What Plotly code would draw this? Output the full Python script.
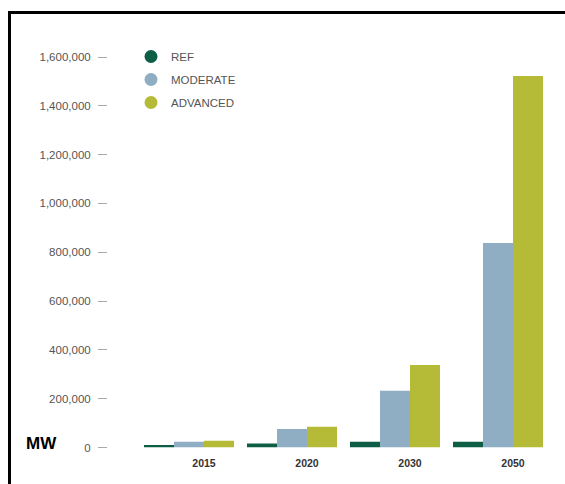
import plotly.graph_objects as go

years = ["2015", "2020", "2030", "2050"]
series_names = ["REF", "MODERATE", "ADVANCED"]
ref = [10000, 16000, 24000, 24000]
moderate = [24000, 76000, 233000, 838000]
advanced = [28000, 85000, 338000, 1522000]
colors = ["#0e5e46", "#8fadc3", "#b5bb36"]
y_ticks = [0, 200000, 400000, 600000, 800000, 1000000, 1200000, 1400000, 1600000]

W, H = 565, 484
xs = list(range(len(years)))
bargap = 0.126
bar_w = (1 - bargap) / 3

fig = go.Figure()
for name, vals, col in zip(series_names, [ref, moderate, advanced], colors):
    fig.add_trace(go.Bar(x=xs, y=vals, name=name, marker=dict(color=col, line=dict(width=0)),
                         showlegend=False))
for name, col in zip(series_names, colors):
    fig.add_trace(go.Scatter(x=[None], y=[None], mode="markers", name=name, legendgroup=name,
                             marker=dict(symbol="circle", size=13, color=col)))

plot_left = 108
x_unit = 103.0
center0 = 189
range_lo = -(center0 - plot_left) / x_unit
range_hi = 3 + (W - 498) / x_unit

y0_px = 447.5
px_per = (447.5 - 57) / 1600000
ymax = 1700000
top_px = y0_px - ymax * px_per

fig.update_layout(
    width=W, height=H,
    margin=dict(l=0, r=0, t=0, b=0, autoexpand=False),
    paper_bgcolor="white", plot_bgcolor="white",
    barmode="group", bargap=bargap, bargroupgap=0,
    font=dict(family="Liberation Sans, Arial, sans-serif", color="#555555", size=10),
    xaxis=dict(domain=[plot_left / W, 1], range=[range_lo, range_hi], automargin=False,
               tickmode="array", tickvals=[x + bar_w / 2 for x in xs], ticktext=["<b>%s</b>" % y for y in years],
               ticks="", showline=False, showgrid=False, zeroline=False,
               tickfont=dict(size=10.5, color="#333333", family="Liberation Sans, Arial, sans-serif"),
               ticklabelstandoff=8, fixedrange=True),
    yaxis=dict(domain=[(H - y0_px) / H, (H - top_px) / H], range=[0, ymax], automargin=False,
               tickmode="array", tickvals=y_ticks,
               ticktext=[f"{v:,}" for v in y_ticks],
               ticks="outside", ticklen=9, tickcolor="#aaaaaa", tickwidth=1,
               showline=False, showgrid=False, zeroline=False,
               tickfont=dict(size=11.5, color="#555555"),
               ticklabelstandoff=5, fixedrange=True),
    legend=dict(x=131 / W, y=(H - 42) / H, xanchor="left", yanchor="top",
                bgcolor="rgba(0,0,0,0)", font=dict(size=11.5, color="#555555"),
                tracegroupgap=4, itemwidth=30),
    shapes=[
        dict(type="line", xref="paper", yref="paper", x0=9.5 / W, x1=1, y0=(H - 12.5) / H, y1=(H - 12.5) / H,
             line=dict(color="black", width=3)),
        dict(type="line", xref="paper", yref="paper", x0=9.5 / W, x1=9.5 / W, y0=0, y1=(H - 11) / H,
             line=dict(color="black", width=3)),
    ],
    annotations=[
        dict(text="<b>MW</b>", xref="paper", yref="paper", x=24 / W, y=(H - 443) / H,
             xanchor="left", yanchor="middle", showarrow=False,
             font=dict(size=17, color="black", family="Liberation Sans, Arial, sans-serif")),
    ],
)

fig.write_html("out.html", config={"displayModeBar": False},
               post_script="document.body.style.margin='0';document.body.style.overflow='hidden';")
